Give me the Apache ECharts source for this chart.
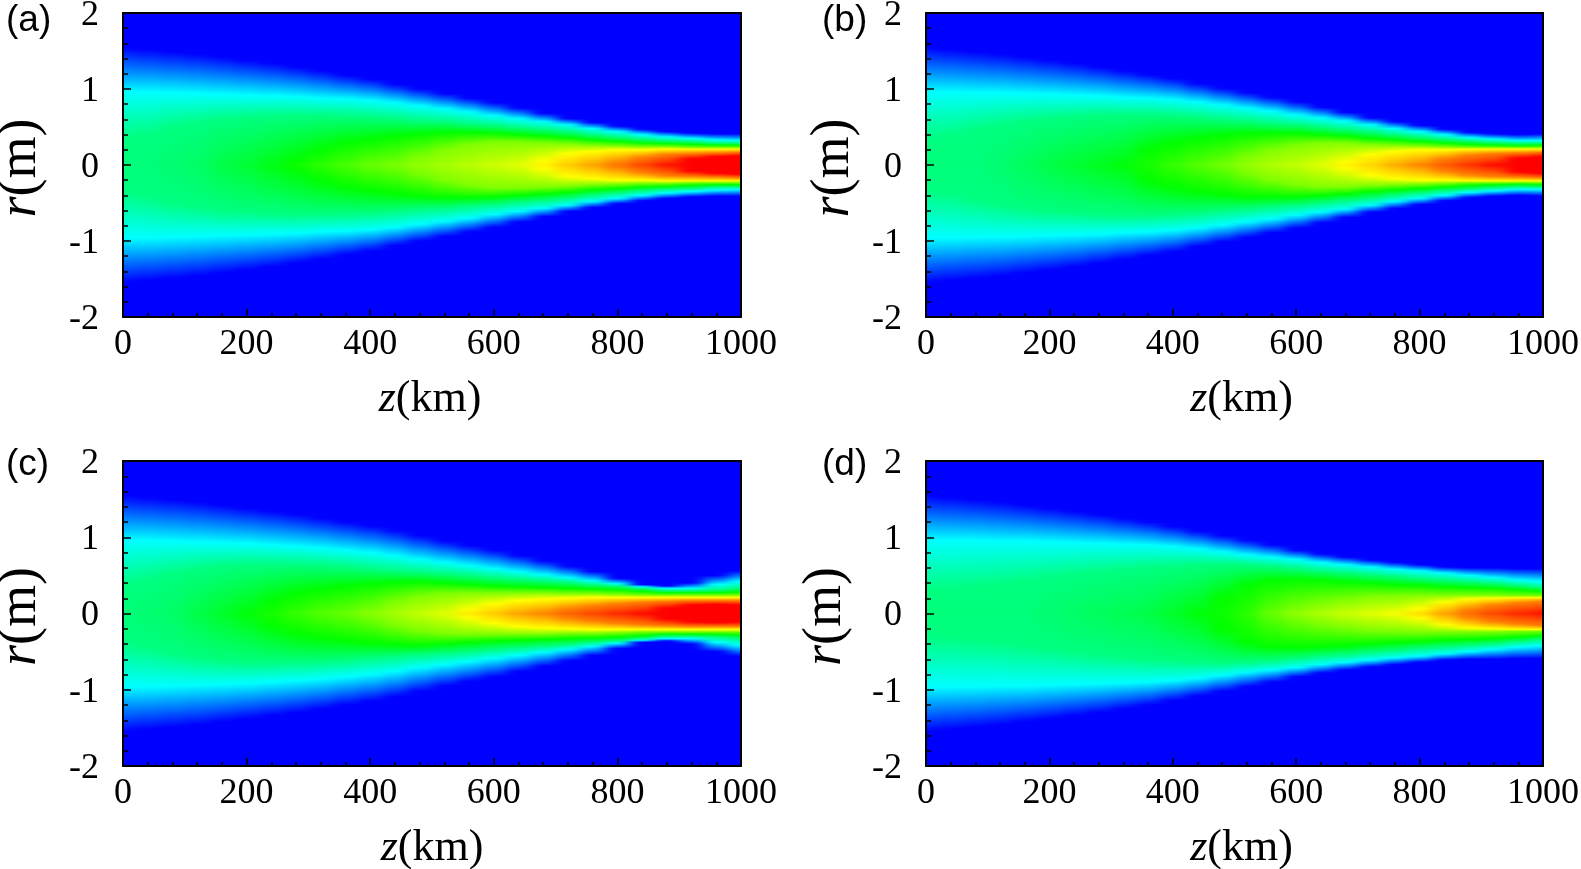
<!DOCTYPE html>
<html>
<head>
<meta charset="utf-8">
<title>r-z intensity maps</title>
<style>
  html, body { margin: 0; padding: 0; background: #fff; }
  #chart { width: 1581px; height: 869px; }
  /* map columns sit on their own canvas, softened along z only */
  #chart canvas[data-zr-dom-id="zr_0"] { filter: url(#zSoft); }
</style>
<script src="https://cdn.jsdelivr.net/npm/echarts@6/dist/echarts.min.js"></script>
</head>
<body>
<svg width="0" height="0" style="position:absolute">
  <filter id="zSoft" x="0" y="0" width="100%" height="100%" color-interpolation-filters="sRGB">
    <feGaussianBlur stdDeviation="7 0"/>
  </filter>
</svg>
<div id="chart"></div>
<script>
// z samples (km), one column of the map per sample
const zSamples = [0,40,80,120,160,200,240,280,320,360,400,440,480,520,560,600,640,680,720,760,800,840,880,920,960,1000];

const palette = ['#0000ff', '#00ffff', '#00ff00', '#ffff00', '#ff0000'];
const levelValues = [0, .25, .375, .5, .625, .75, .875, 1];

// for each panel: radius (m) of each contour, and the value on the axis r = 0
const edgeA = [1.55,1.52,1.49,1.46,1.42,1.38,1.34,1.29,1.24,1.18,1.13,1.06,1.0,.94,.88,.82,.75,.68,.61,.56,.51,.47,.44,.42,.41,.41];
const cyanA = [.96,.96,.95,.94,.93,.92,.91,.90,.88,.87,.85,.82,.78,.74,.70,.65,.61,.57,.53,.48,.44,.40,.37,.35,.33,.32];
const springA = [.35,.40,.50,.55,.60,.62,.64,.65,.65,.64,.63,.61,.58,.57,.54,.52,.49,.47,.44,.40,.37,.34,.32,.31,.29,.29];
const greenA = [null,null,null,null,null,null,null,.06,.2,.29,.34,.38,.41,.43,.43,.42,.40,.38,.36,.33,.31,.29,.28,.27,.26,.26];
const limeA = [null,null,null,null,null,null,null,null,null,null,null,null,.1,.2,.27,.30,.30,.29,.28,.26,.25,.24,.24,.23,.23,.23];
const yellowA = [null,null,null,null,null,null,null,null,null,null,null,null,null,null,null,null,null,.05,.15,.18,.2,.2,.21,.21,.21,.21];
const orangeA = [null,null,null,null,null,null,null,null,null,null,null,null,null,null,null,null,null,null,null,null,.03,.1,.14,.15,.16,.17];
const redA = [null,null,null,null,null,null,null,null,null,null,null,null,null,null,null,null,null,null,null,null,null,null,null,.08,.11,.12];
const peakA = [.38,.38,.39,.40,.43,.45,.48,.51,.54,.57,.60,.62,.64,.66,.68,.70,.72,.76,.80,.84,.88,.93,.98,1,1,1];

const edgeB = [1.55,1.52,1.49,1.46,1.42,1.38,1.34,1.29,1.24,1.19,1.14,1.07,1.01,.95,.89,.83,.76,.69,.62,.57,.52,.47,.43,.41,.40,.41];
const cyanB = [.96,.96,.95,.95,.94,.93,.92,.91,.89,.88,.86,.83,.79,.75,.71,.66,.62,.58,.53,.48,.44,.40,.36,.34,.32,.32];
const springB = [.33,.38,.46,.52,.57,.61,.63,.65,.66,.66,.65,.63,.60,.58,.55,.53,.50,.47,.44,.40,.37,.34,.32,.30,.29,.29];
const greenB = [null,null,null,null,null,null,null,null,null,.2,.29,.35,.39,.42,.42,.42,.40,.38,.35,.33,.31,.29,.27,.26,.25,.26];
const limeB = [null,null,null,null,null,null,null,null,null,null,null,null,null,.1,.2,.26,.29,.29,.27,.26,.25,.24,.23,.23,.23,.23];
const yellowB = [null,null,null,null,null,null,null,null,null,null,null,null,null,null,null,null,null,.04,.14,.18,.2,.2,.21,.21,.21,.21];
const orangeB = [null,null,null,null,null,null,null,null,null,null,null,null,null,null,null,null,null,null,null,null,null,.08,.13,.15,.16,.17];
const redB = [null,null,null,null,null,null,null,null,null,null,null,null,null,null,null,null,null,null,null,null,null,null,null,null,.09,.11];
const peakB = [.38,.38,.38,.39,.41,.43,.45,.47,.49,.52,.55,.58,.61,.64,.67,.69,.72,.76,.79,.83,.87,.91,.95,.99,1,1];

const edgeC = [1.55,1.52,1.49,1.46,1.42,1.38,1.34,1.30,1.25,1.20,1.15,1.09,1.02,.95,.89,.83,.76,.69,.62,.55,.46,.38,.36,.40,.50,.56];
const cyanC = [.96,.96,.95,.94,.93,.92,.90,.88,.86,.83,.80,.76,.71,.67,.63,.59,.55,.51,.47,.43,.39,.35,.33,.33,.38,.42];
const springC = [.36,.44,.52,.58,.62,.64,.64,.64,.63,.61,.58,.56,.54,.52,.50,.47,.45,.43,.41,.38,.36,.33,.30,.30,.31,.33];
const greenC = [null,null,null,null,null,null,.16,.27,.32,.36,.39,.41,.42,.40,.38,.36,.35,.34,.33,.32,.31,.29,.27,.27,.27,.28];
const limeC = [null,null,null,null,null,null,null,null,null,null,.03,.15,.22,.26,.27,.27,.27,.27,.26,.26,.25,.24,.24,.24,.24,.24];
const yellowC = [null,null,null,null,null,null,null,null,null,null,null,null,null,null,.05,.13,.17,.19,.2,.21,.21,.21,.21,.21,.21,.21];
const orangeC = [null,null,null,null,null,null,null,null,null,null,null,null,null,null,null,null,null,null,.06,.1,.13,.15,.16,.17,.17,.17];
const redC = [null,null,null,null,null,null,null,null,null,null,null,null,null,null,null,null,null,null,null,null,null,null,.07,.11,.12,.11];
const peakC = [.38,.39,.40,.43,.46,.49,.52,.55,.58,.60,.63,.66,.69,.72,.77,.80,.84,.87,.90,.93,.96,.99,1,1,1,1];

const edgeD = [1.55,1.52,1.49,1.46,1.42,1.38,1.34,1.30,1.25,1.20,1.14,1.08,1.02,.96,.90,.83,.78,.74,.70,.67,.64,.61,.60,.60,.59,.59];
const cyanD = [.96,.96,.96,.95,.95,.94,.93,.92,.91,.90,.88,.85,.81,.77,.74,.71,.67,.64,.61,.58,.56,.53,.50,.47,.44,.42];
const springD = [.30,.32,.35,.38,.42,.46,.50,.54,.57,.60,.62,.64,.65,.64,.62,.59,.56,.54,.51,.49,.46,.44,.42,.40,.37,.34];
const greenD = [null,null,null,null,null,null,null,null,null,null,null,null,.22,.38,.44,.45,.44,.42,.40,.38,.37,.35,.34,.33,.31,.29];
const limeD = [null,null,null,null,null,null,null,null,null,null,null,null,null,null,null,.05,.13,.18,.22,.23,.24,.24,.24,.24,.23,.23];
const yellowD = [null,null,null,null,null,null,null,null,null,null,null,null,null,null,null,null,null,null,null,null,.06,.15,.19,.2,.21,.21];
const orangeD = [null,null,null,null,null,null,null,null,null,null,null,null,null,null,null,null,null,null,null,null,null,null,.05,.11,.14,.16];
const redD = [null,null,null,null,null,null,null,null,null,null,null,null,null,null,null,null,null,null,null,null,null,null,null,null,null,null];
const peakD = [.38,.38,.38,.38,.38,.39,.40,.41,.42,.43,.46,.49,.51,.54,.60,.64,.67,.695,.72,.74,.78,.84,.89,.93,.96,.98];

const xTicks = { min: 0, max: 1000, interval: 200 };
const yTicks = { min: -2, max: 2, interval: 1 };

const panels = [
  { tag: '(a)', grid: { left: 123, top: 13, width: 618, height: 304 }, tagPos: { left: 1, top: -3 }, rGap: 75, zPad: [0, 4, 0, 0],
    levels: [edgeA, cyanA, springA, greenA, limeA, yellowA, orangeA, redA], peak: peakA },
  { tag: '(b)', grid: { left: 926, top: 13, width: 617, height: 304 }, tagPos: { left: 817, top: -3 }, rGap: 65, zPad: [0, 0, 0, 14],
    levels: [edgeB, cyanB, springB, greenB, limeB, yellowB, orangeB, redB], peak: peakB },
  { tag: '(c)', grid: { left: 123, top: 461, width: 618, height: 305 }, tagPos: { left: 1, top: 441 }, rGap: 75, zPad: [0, 0, 0, 0],
    levels: [edgeC, cyanC, springC, greenC, limeC, yellowC, orangeC, redC], peak: peakC },
  { tag: '(d)', grid: { left: 926, top: 461, width: 617, height: 305 }, tagPos: { left: 817, top: 441 }, rGap: 73, zPad: [0, 0, 0, 14],
    levels: [edgeD, cyanD, springD, greenD, limeD, yellowD, orangeD, redD], peak: peakD }
];

const serif = 'Liberation Serif';
const halfStep = (zSamples[1] - zSamples[0]) / 2;
const overhang = 40; // px drawn past the frame so the softening has colour to work with

function renderColumn(params, api) {
  const z = api.value(0);
  const left = api.coord([Math.max(0, z - halfStep), yTicks.max]);
  const right = api.coord([Math.min(xTicks.max, z + halfStep), yTicks.min]);

  // stops from r = +2 to r = 0, mirrored below the axis
  const upper = [{ r: yTicks.max, color: palette[0] }];
  levelValues.forEach((v, i) => {
    const r = api.value(i + 2);
    if (!isNaN(r) && r !== null) upper.push({ r: r, color: echarts.color.lerp(v, palette) });
  });
  upper.push({ r: 0, color: echarts.color.lerp(api.value(1), palette) });

  const span = yTicks.max - yTicks.min;
  const stops = upper.map(s => ({ offset: (yTicks.max - s.r) / span, color: s.color }));
  for (let i = upper.length - 2; i >= 0; i--) {
    stops.push({ offset: (yTicks.max + upper[i].r) / span, color: upper[i].color });
  }

  let x0 = Math.round(left[0]);
  let x1 = Math.round(right[0]) + 1;
  if (z === xTicks.min) x0 -= overhang;
  if (z === xTicks.max) x1 += overhang;
  return {
    type: 'rect',
    shape: { x: x0, y: left[1], width: x1 - x0, height: right[1] - left[1] },
    style: { fill: new echarts.graphic.LinearGradient(0, 0, 0, 1, stops) }
  };
}

const frameAxis = { lineStyle: { color: '#000', width: 2 }, onZero: false };

const option = {
  animation: false,
  title: panels.map(p => ({
    text: p.tag,
    left: p.tagPos.left,
    top: p.tagPos.top,
    zlevel: 1,
    textStyle: { fontFamily: 'Liberation Sans', fontSize: 37, fontWeight: 'normal', color: '#000' }
  })),
  grid: panels.map(p => Object.assign({ outerBoundsMode: 'none' }, p.grid)),
  xAxis: [],
  yAxis: [],
  series: []
};

panels.forEach((p, idx) => {
  option.xAxis.push({
    type: 'value', gridIndex: idx, zlevel: 1, min: xTicks.min, max: xTicks.max, interval: xTicks.interval,
    name: '{i|z}(km)', nameLocation: 'middle', nameGap: 60,
    nameTextStyle: { fontFamily: serif, fontSize: 44, color: '#000', padding: p.zPad,
      rich: { i: { fontFamily: serif, fontStyle: 'italic', fontSize: 44, color: '#000' } } },
    axisLine: frameAxis,
    axisTick: { inside: true, length: 8, lineStyle: { color: '#000', width: 1.5 } },
    minorTick: { show: true, splitNumber: 5, length: 4, lineStyle: { color: '#000', width: 1.5 } },
    axisLabel: { fontFamily: serif, fontSize: 36, color: '#000', margin: 10, formatter: v => String(v) },
    splitLine: { show: false }
  }, {
    type: 'value', gridIndex: idx, zlevel: 1, position: 'top', min: xTicks.min, max: xTicks.max,
    axisLine: frameAxis, axisTick: { show: false }, axisLabel: { show: false }, splitLine: { show: false }
  });
  option.yAxis.push({
    type: 'value', gridIndex: idx, zlevel: 1, position: 'left', min: yTicks.min, max: yTicks.max, interval: yTicks.interval,
    name: '{i|r}(m)', nameLocation: 'middle', nameGap: p.rGap,
    nameTextStyle: { fontFamily: serif, fontSize: 54, color: '#000', padding: [0, 6, 0, 0],
      rich: { i: { fontFamily: serif, fontStyle: 'italic', fontSize: 54, color: '#000' } } },
    axisLine: frameAxis,
    axisTick: { inside: true, length: 8, lineStyle: { color: '#000', width: 1.5 } },
    minorTick: { show: true, splitNumber: 5, length: 5, lineStyle: { color: '#000', width: 1.5 } },
    // labels sit a little below their ticks in the original
    axisLabel: { fontFamily: serif, fontSize: 36, color: '#000', margin: 24, verticalAlign: 'top', lineHeight: 5 },
    splitLine: { show: false }
  }, {
    type: 'value', gridIndex: idx, zlevel: 1, position: 'right', min: yTicks.min, max: yTicks.max,
    axisLine: frameAxis, axisTick: { show: false }, axisLabel: { show: false }, splitLine: { show: false }
  });
  option.series.push({
    type: 'custom',
    coordinateSystem: 'cartesian2d',
    xAxisIndex: idx * 2,
    yAxisIndex: idx * 2,
    zlevel: 0,
    silent: true,
    renderItem: renderColumn,
    encode: { x: 0, y: 1 },
    data: zSamples.map((z, i) => [z, p.peak[i]].concat(p.levels.map(l => l[i])))
  });
});

const chart = echarts.init(document.getElementById('chart'));
chart.setOption(option);

// cut the softened canvas back to the four frames
const mapCanvas = document.querySelector('#chart canvas[data-zr-dom-id="zr_0"]');
if (mapCanvas) {
  const boxes = panels.map(p => {
    const g = p.grid;
    return `M${g.left} ${g.top}H${g.left + g.width}V${g.top + g.height}H${g.left}Z`;
  });
  mapCanvas.style.clipPath = `path('${boxes.join(' ')}')`;
}
</script>
</body>
</html>
